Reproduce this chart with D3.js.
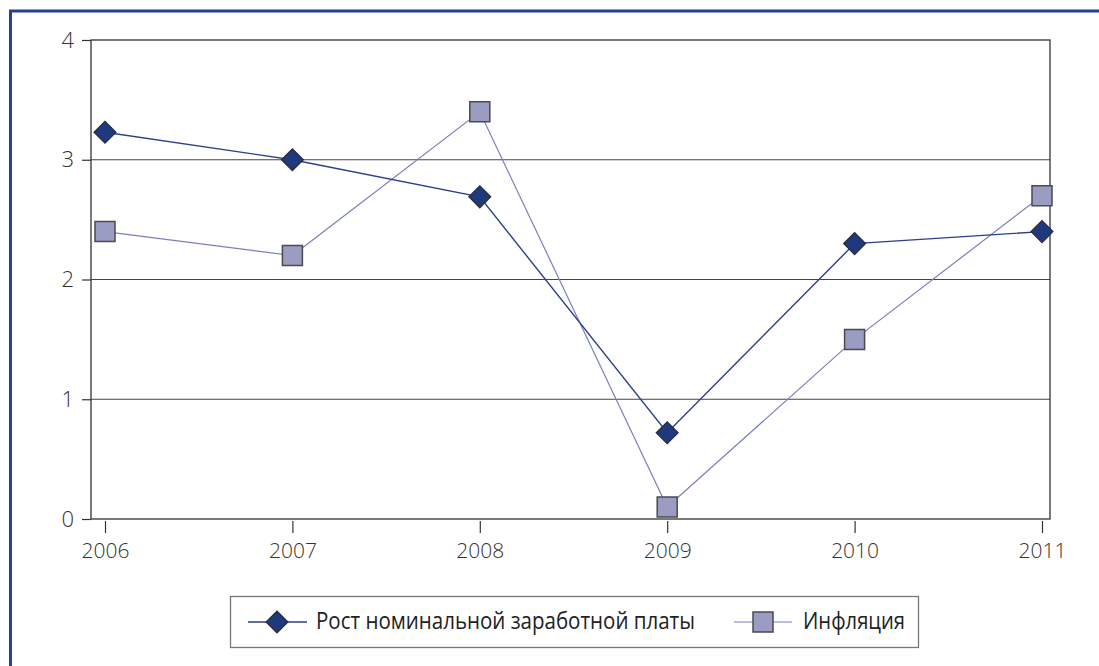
<!DOCTYPE html>
<html>
<head>
<meta charset="utf-8">
<script src="https://cdn.jsdelivr.net/npm/d3@7"></script>
<style>
	body { margin: 0; background: #fff; }
	svg { display: block; }
	.axis text { font-family: "Open Sans", "Liberation Sans", sans-serif; font-weight: 300; fill: #333; }
	.legend text { font-family: "Open Sans", sans-serif; fill: #222; }
</style>
</head>
<body>
<svg id="chart" width="1099" height="666"></svg>
<script>
const years = ["2006", "2007", "2008", "2009", "2010", "2011"];
const wages = [3.23, 3.0, 2.69, 0.72, 2.3, 2.4];
const inflation = [2.4, 2.2, 3.4, 0.1, 1.5, 2.7];
const yTicks = [0, 1, 2, 3, 4];
const seriesNames = ["Рост номинальной заработной платы", "Инфляция"];

const svg = d3.select("#chart");

// blue frame, left and top only
svg.append("path")
	.attr("d", "M10.5,666 V11 H1099")
	.attr("fill", "none")
	.attr("stroke", "#22418f")
	.attr("stroke-width", 3);

let plot = { left: 91, right: 1050, top: 40, bottom: 519 };

let x = d3.scalePoint()
	.domain(years)
	.range([105, 1042]);

let y = d3.scaleLinear()
	.domain([0, 4])
	.range([plot.bottom, plot.top]);

// grid
svg.append("g")
	.selectAll("line")
	.data(yTicks.filter(d => d > 0 && d < 4))
	.join("line")
	.attr("x1", plot.left).attr("x2", plot.right)
	.attr("y1", d => y(d)).attr("y2", d => y(d))
	.attr("stroke", "#444")
	.attr("stroke-width", 1.2);

// plot box
svg.append("rect")
	.attr("x", plot.left).attr("y", plot.top)
	.attr("width", plot.right - plot.left)
	.attr("height", plot.bottom - plot.top)
	.attr("fill", "none")
	.attr("stroke", "#333")
	.attr("stroke-width", 1.3);

// y axis
let yAxis = svg.append("g")
	.attr("class", "axis")
	.attr("transform", `translate(${plot.left},0)`)
	.call(d3.axisLeft(y).tickValues(yTicks).tickSize(9).tickPadding(8).tickFormat(d3.format("d")));
yAxis.select(".domain").remove();
yAxis.selectAll("line").attr("stroke", "#333").attr("stroke-width", 1.2);
yAxis.selectAll("text").attr("font-size", 22);

// x axis
let xAxis = svg.append("g")
	.attr("class", "axis")
	.attr("transform", `translate(0,${plot.bottom + 2})`)
	.call(d3.axisBottom(x).tickSize(12).tickPadding(10));
xAxis.select(".domain").remove();
xAxis.selectAll("line").attr("stroke", "#333").attr("stroke-width", 1.2);
xAxis.selectAll("text").attr("font-size", 21);

let line = d3.line()
	.x((d, i) => x(years[i]))
	.y(d => y(d));

svg.append("path")
	.datum(inflation)
	.attr("d", line)
	.attr("fill", "none")
	.attr("stroke", "#7a7fbf")
	.attr("stroke-width", 1.2);

svg.append("path")
	.datum(wages)
	.attr("d", line)
	.attr("fill", "none")
	.attr("stroke", "#2c3f8c")
	.attr("stroke-width", 1.4);

let square = d3.symbol().type(d3.symbolSquare).size(400);
let diamond = d3.symbol().type(d3.symbolSquare).size(240);

svg.append("g")
	.selectAll("path")
	.data(inflation)
	.join("path")
	.attr("d", square)
	.attr("transform", (d, i) => `translate(${x(years[i])},${y(d)})`)
	.attr("fill", "#9a9cc2")
	.attr("stroke", "#4a4a52")
	.attr("stroke-width", 1.5);

svg.append("g")
	.selectAll("path")
	.data(wages)
	.join("path")
	.attr("d", diamond)
	.attr("transform", (d, i) => `translate(${x(years[i])},${y(d)}) rotate(45)`)
	.attr("fill", "#1f3a7c")
	.attr("stroke", "#2a2a3a")
	.attr("stroke-width", 1.2);

// legend
let legend = svg.append("g").attr("class", "legend");
legend.append("rect")
	.attr("x", 230.5).attr("y", 596.5)
	.attr("width", 688).attr("height", 51)
	.attr("fill", "#fff")
	.attr("stroke", "#777")
	.attr("stroke-width", 1.3);

let ly = 622;
legend.append("line")
	.attr("x1", 248).attr("x2", 307).attr("y1", ly).attr("y2", ly)
	.attr("stroke", "#2c3f8c").attr("stroke-width", 1.4);
legend.append("path")
	.attr("d", diamond)
	.attr("transform", `translate(277,${ly}) rotate(45)`)
	.attr("fill", "#1f3a7c").attr("stroke", "#2a2a3a").attr("stroke-width", 1.2);
legend.append("text")
	.attr("x", 316).attr("y", ly + 7)
	.attr("font-size", 23)
	.attr("textLength", 379)
	.attr("lengthAdjust", "spacingAndGlyphs")
	.text(seriesNames[0]);

legend.append("line")
	.attr("x1", 734).attr("x2", 792).attr("y1", ly).attr("y2", ly)
	.attr("stroke", "#7a7fbf").attr("stroke-width", 1.2);
legend.append("path")
	.attr("d", square)
	.attr("transform", `translate(763,${ly})`)
	.attr("fill", "#9a9cc2").attr("stroke", "#4a4a52").attr("stroke-width", 1.5);
legend.append("text")
	.attr("x", 803).attr("y", ly + 7)
	.attr("font-size", 23)
	.attr("textLength", 102)
	.attr("lengthAdjust", "spacingAndGlyphs")
	.text(seriesNames[1]);
</script>
</body>
</html>
